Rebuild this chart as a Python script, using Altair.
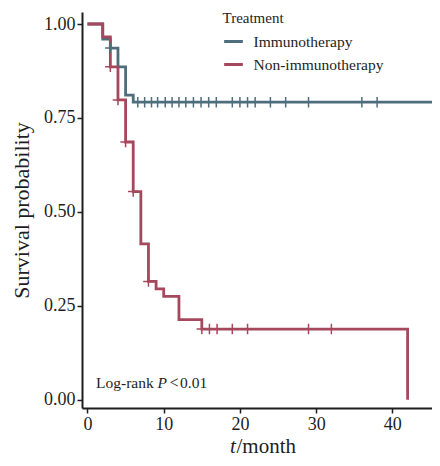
import altair as alt
import pandas as pd

# ---- data ----
groups = ["Immunotherapy", "Non-immunotherapy"]

immuno_time = [0, 2, 3, 4, 5, 6, 45.2]
immuno_surv = [1.0, 0.96, 0.936, 0.886, 0.811, 0.792, 0.792]

non_time = [0, 2, 3, 4, 5, 6, 7, 8, 9, 10, 12, 15, 42]
non_surv = [1.0, 0.966, 0.886, 0.798, 0.686, 0.554, 0.415, 0.315, 0.295, 0.275, 0.213, 0.188, 0.0]

immuno_cens_time = [3, 6.6, 7.5, 8.4, 9.2, 10.2, 11.1, 12.0, 12.9, 13.9, 14.9, 15.9, 16.9,
                    19, 20, 21, 22, 24, 26, 29, 36, 38]
immuno_cens_surv = [0.936] + [0.792] * 21

non_cens_time = [3, 4, 5, 6, 8, 15, 16, 17, 19, 21, 29, 32]
non_cens_surv = [0.886, 0.798, 0.686, 0.554, 0.315, 0.188, 0.188, 0.188, 0.188, 0.188, 0.188, 0.188]

x_ticks = [0, 10, 20, 30, 40]
y_ticks = [0.0, 0.25, 0.50, 0.75, 1.00]

BLUE = "#4E6E7D"
RED = "#A6485D"
INK = "#1e1e1e"
SERIF = "Liberation Serif"

lines_df = pd.concat([
    pd.DataFrame({"time": immuno_time, "surv": immuno_surv, "group": groups[0]}),
    pd.DataFrame({"time": non_time, "surv": non_surv, "group": groups[1]}),
])
cens_df = pd.concat([
    pd.DataFrame({"time": immuno_cens_time, "surv": immuno_cens_surv, "group": groups[0]}),
    pd.DataFrame({"time": non_cens_time, "surv": non_cens_surv, "group": groups[1]}),
])

xscale = alt.Scale(domain=[-0.72, 45.2], nice=False, zero=False)
yscale = alt.Scale(domain=[-0.022, 1.032], nice=False, zero=False)

xaxis = alt.Axis(values=x_ticks, title=None, grid=False, labelFont=SERIF, labelFontSize=18,
                 labelColor=INK, domainColor=INK, domainWidth=2, tickColor=INK, tickWidth=1.5,
                 tickSize=5, labelPadding=2)
yaxis = alt.Axis(values=y_ticks, format=".2f", title="Survival probability", grid=False,
                 labelFont=SERIF, labelFontSize=18, labelColor=INK, domainColor=INK,
                 domainWidth=2, tickColor=INK, tickWidth=1.5, tickSize=5, labelPadding=2,
                 titleFont=SERIF, titleFontSize=22, titleFontWeight="normal", titleColor=INK,
                 titlePadding=10)

legend = alt.Legend(orient="none", legendX=140.5, legendY=-1.5, title="Treatment",
                    titleFont=SERIF, titleFontSize=15, titleFontWeight="normal", titleColor=INK,
                    labelFont=SERIF, labelFontSize=15.5, labelColor=INK, symbolType="stroke",
                    symbolSize=350, symbolStrokeWidth=3, rowPadding=3, titlePadding=5,
                    labelOffset=9, padding=0)

lines = alt.Chart(lines_df).mark_line(interpolate="step-after", strokeWidth=2.8).encode(
    x=alt.X("time:Q", scale=xscale, axis=xaxis),
    y=alt.Y("surv:Q", scale=yscale, axis=yaxis),
    color=alt.Color("group:N", scale=alt.Scale(domain=groups, range=[BLUE, RED]), legend=legend),
)

plus = "M-1,0H1M0,-1V1"


def censor_layer(name, colour):
    return alt.Chart(cens_df).transform_filter(alt.datum.group == name).mark_point(
        shape=plus, size=110, filled=False, strokeWidth=1.5, opacity=1, color=colour
    ).encode(x=alt.X("time:Q", scale=xscale), y=alt.Y("surv:Q", scale=yscale))


def label(text, x, y, size, style="normal", align="left"):
    return alt.Chart(pd.DataFrame({"t": [text]})).mark_text(
        font=SERIF, fontSize=size, fontStyle=style, align=align, baseline="alphabetic", color=INK
    ).encode(text="t:N", x=alt.value(x), y=alt.value(y))


chart = alt.layer(
    lines,
    censor_layer(groups[0], BLUE),
    censor_layer(groups[1], RED),
    label("Log-rank", 14, 376, 15.5),
    label("P", 75.5, 376, 15.5, style="italic"),
    label("<", 92, 376, 16, align="center"),
    label("0.01", 98, 376, 15.5),
    label("t", 148, 441, 21, style="italic"),
    label("/month", 154.5, 441, 21),
).properties(
    width=350, height=396,
    autosize=alt.AutoSizeParams(type="none"),
    padding={"left": 74, "top": 4, "right": 0, "bottom": 50},
).configure_view(stroke=None)

chart.save("out.html", embed_options={"renderer": "svg", "actions": False})
